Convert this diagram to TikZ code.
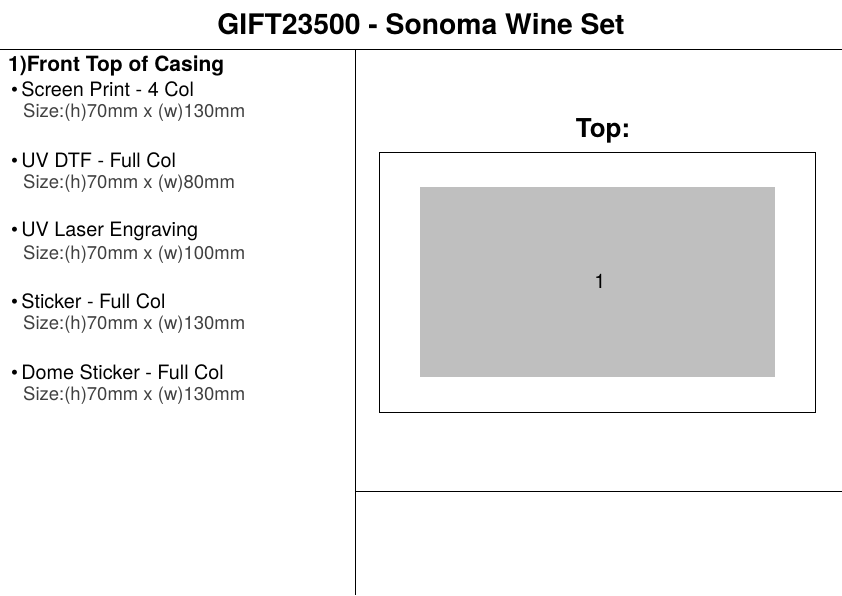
\documentclass[tikz,border=0pt]{standalone}
\usepackage{fontspec}
\setmainfont{TeX Gyre Heros}
\usepackage{tikz}

\begin{document}
\begin{tikzpicture}[x=1pt,y=-1pt]

\tikzset{title/.style = {font=\fontsize{28.3}{31}\selectfont\bfseries}}
\tikzset{head/.style = {anchor=west, inner sep=0pt, font=\fontsize{21}{24}\selectfont\bfseries}}
\tikzset{bul/.style = {anchor=west, inner sep=0pt, font=\fontsize{19.8}{23}\selectfont}}
\tikzset{size/.style = {anchor=west, inner sep=0pt, text=black!75, font=\fontsize{18.5}{21}\selectfont}}
\tikzset{rule/.style = {line width=0.8pt}}
%\draw[help lines] (0,0) grid (842,595);
\useasboundingbox (0,0) rectangle (842,595);

\node[title] (t) at (421,24) {GIFT23500 - Sonoma Wine Set};
\coordinate (l1) at (0,49);
\coordinate (r1) at (842,49);
\coordinate (v1) at (355,49);
\coordinate (v2) at (355,595);
\coordinate (m1) at (355,491);
\coordinate (m2) at (842,491);
\draw[rule] (l1) -- (r1);
\draw[rule] (v1) -- (v2);
\draw[rule] (m1) -- (m2);

\node[head] (h) at (8,66) {1)Front Top of Casing};
\node[bul] (a) at (11,89) {\textbullet\,Screen Print - 4 Col};
\node[size] (as) at (23,113) {Size:(h)70mm x (w)130mm};
\node[bul] (b) at (11,160) {\textbullet\,UV DTF - Full Col};
\node[size] (bs) at (23,184) {Size:(h)70mm x (w)80mm};
\node[bul] (c) at (11,231) {\textbullet\,UV Laser Engraving};
\node[size] (cs) at (23,255) {Size:(h)70mm x (w)100mm};
\node[bul] (d) at (11,301) {\textbullet\,Sticker - Full Col};
\node[size] (ds) at (23,325) {Size:(h)70mm x (w)130mm};
\node[bul] (e) at (11,372) {\textbullet\,Dome Sticker - Full Col};
\node[size] (es) at (23,396) {Size:(h)70mm x (w)130mm};

\node[font=\fontsize{26}{30}\selectfont\bfseries] (top) at (603,131) {Top:};
\draw[line width=0.8pt] (379,152) rectangle (815,412);
\fill[black!25] (420,187) rectangle (775,377);
\node[font=\fontsize{20}{23}\selectfont] (one) at (600,281) {1};
\end{tikzpicture}
\end{document}
